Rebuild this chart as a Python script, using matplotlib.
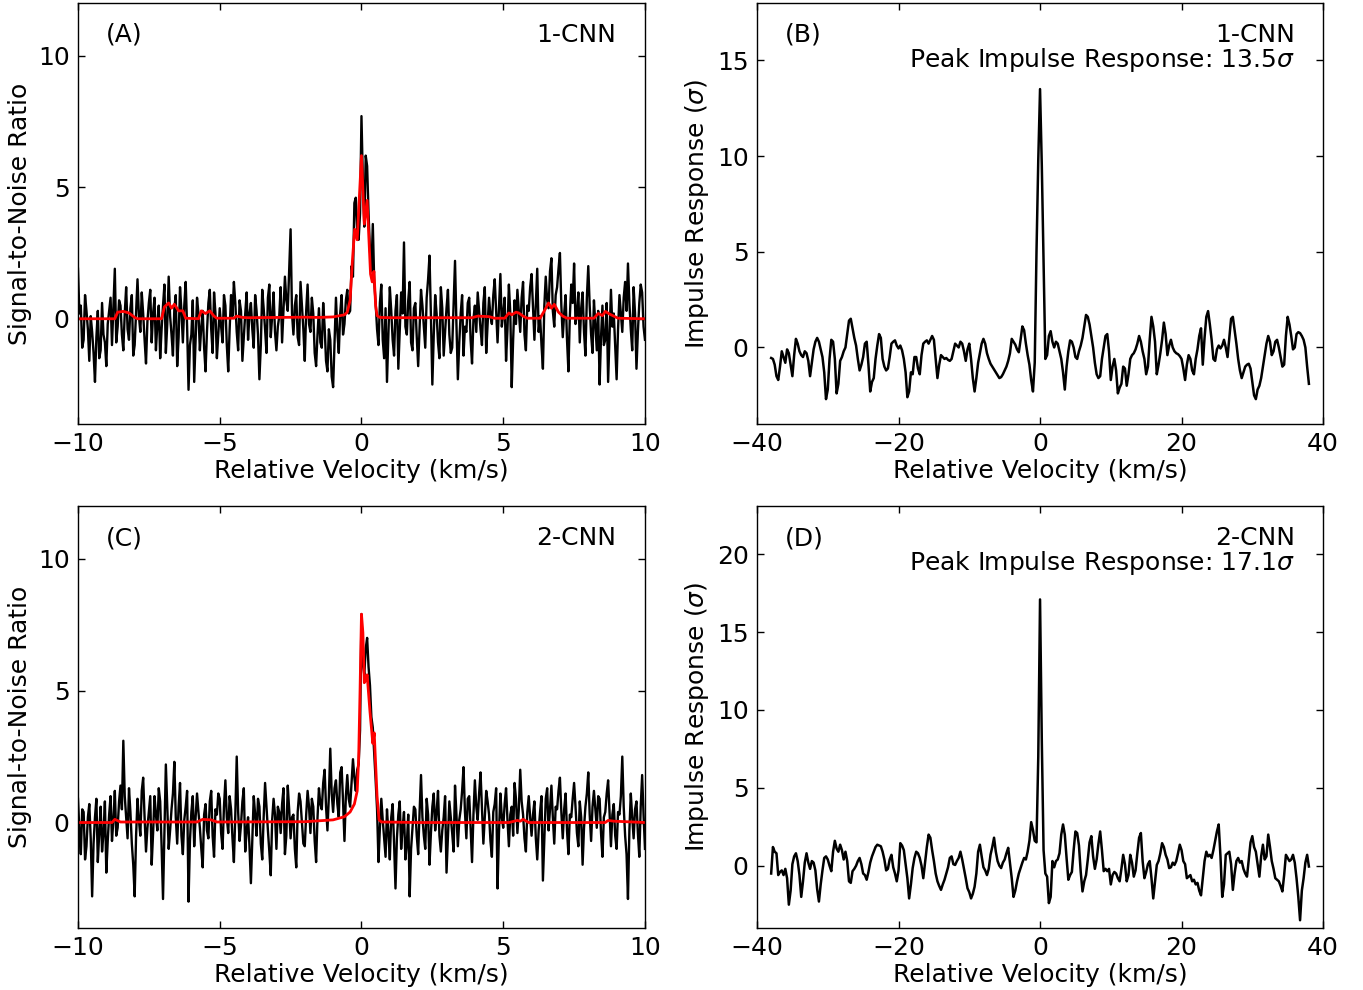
import numpy as np
import matplotlib
matplotlib.use("Agg")
import matplotlib.pyplot as plt

# ---------------- data ----------------
# Panel A: 1-CNN spectrum (black), 0.05 km/s channel grid from -10 to 10
snr_a = [1.9, 0.2, 0.5, -1.1, -0.8, 0.9, 0.3, -0.4, -1.6, 0.1, -0.5, -1.3, -2.4, -0.7, 0.3, -1.5, -1.2, 0.6, -0.6, -0.9,
         -1.8, -0.2, 0.3, 0.8, -1.0, 0.4, 1.9, -0.9, -0.3, 0.7, 0.5, -0.6, -1.2, 0.2, 1.2, -0.4, -0.8, 0.4, 0.9, -1.4,
         -1.0, 0.3, 1.5, 0.1, -0.5, 1.0, 0.2, -0.8, -1.7, -0.1, 0.6, 1.1, -0.9, 0.2, 0.8, -1.2, -0.2, 0.5, -1.5, -0.4,
         0.5, 1.3, -1.3, -0.2, 1.6, 0.1, -0.6, -1.4, 0.4, 0.9, -1.8, -0.7, 1.2, 0.3, -0.9, 0.5, 1.4, -0.3, -2.7, -1.0,
         -0.6, 0.7, -2.4, -0.8, 0.8, 0.2, -1.2, -0.3, 0.3, -1.1, -2.0, -0.5, 0.6, 1.1, -0.4, -1.3, 1.0, 0.2, -1.5, -0.6,
         0.4, -0.3, -0.9, 0.9, 0.5, -1.0, -2.0, -0.4, 0.9, 0.1, 1.4, 0.6, -0.5, -1.2, 0.7, 0.3, -1.6, -0.7, 0.2, 1.0,
         -0.8, 0.2, 0.6, -0.4, -1.1, 0.9, 0.3, -0.6, -2.3, -1.0, 1.1, 0.4, -0.4, -1.3, 0.8, 1.3, -0.7, 0.1, 1.0, -0.5,
         -1.2, -0.3, 0.1, 1.2, -0.9, 0.4, 1.6, 0.7, 0.3, 1.8, 3.4, 0.2, -0.6, 0.5, 0.9, -0.7, -1.0, 1.4, 0.5, -0.4,
         -1.6, 0.3, 1.3, -0.2, -0.5, 0.8, 0.2, -1.3, -1.8, -0.6, 0.4, -0.9, -1.1, 0.6, -0.3, -1.6, -2.0, -0.4, -0.8, -2.2,
         -2.6, -0.9, 0.8, -0.5, -1.3, 0.2, 0.9, -0.6, -0.2, 0.7, 1.1, 0.2, 0.3, 2.0, 1.6, 4.4, 4.6, 3.3, 3.0, 4.0,
         7.7, 5.2, 3.5, 6.2, 5.8, 4.0, 2.6, 1.8, 3.6, 1.4, 0.6, -0.4, -1.0, 0.6, 1.3, -0.8, -1.5, 0.4, -2.4, -0.6,
         1.2, 0.3, -0.8, -1.4, 0.3, 0.9, -1.9, -0.5, 1.0, 0.2, 2.9, -0.3, -0.6, 0.7, 1.4, -0.9, -1.2, 0.4, 0.6, -0.7,
         -1.8, -0.4, 1.1, 0.5, -0.3, -1.1, 0.8, 1.5, 2.4, 0.1, -2.5, -0.6, 0.9, 0.2, -0.9, -1.5, 1.2, 0.4, -1.4, -0.5,
         0.4, 1.1, -0.6, -1.3, -1.1, 0.5, 2.2, -0.2, -2.3, -0.9, 0.2, 0.9, -1.4, -0.3, -0.5, 0.6, 0.8, -0.8, -1.7, 0.0,
         0.5, -0.5, 1.0, 0.3, -0.4, -1.0, 0.6, 1.2, -1.3, -0.2, 0.8, 0.1, -0.2, 0.9, 1.5, 0.3, -0.9, 0.4, 1.7, -0.3,
         0.2, 0.8, -1.6, -0.4, 1.3, 0.2, -2.6, -0.8, 0.7, -0.2, 1.1, 0.3, -0.5, 0.8, 1.4, -0.6, -1.2, 0.5, 0.3, 1.2,
         1.7, 0.4, -0.8, 0.6, 1.9, -0.5, 0.1, -1.0, -1.9, 0.5, 1.6, 0.7, 0.4, 1.8, 2.3, 0.3, -0.3, 0.9, 1.2, 1.9,
         2.5, 0.5, -0.7, 0.2, 0.9, -0.8, -2.0, 0.1, 1.3, 0.6, 2.1, -0.2, 0.2, 1.0, -0.9, 0.4, 1.0, -0.5, -1.4, 0.8,
         2.0, 0.5, -0.6, -1.3, 0.7, -0.2, -1.2, 0.3, -2.5, -0.7, 0.5, -1.0, -0.8, 0.6, -2.4, -0.6, 1.1, -0.3, 0.2, -1.1,
         -2.3, -0.4, 0.9, 0.2, -0.5, 0.8, 1.4, 0.3, 2.1, 0.6, -0.4, -1.2, 1.2, 0.2, -1.9, -0.5, 0.6, 1.3, 1.0, -0.3,
         -0.8]

# Panel A: 1-CNN model (red)
model_a_vel = [-10, -8.7, -8.6, -8.4, -8.2, -8.0, -7.9, -7.05, -6.95, -6.8,
               -6.7, -6.6, -6.45, -6.3, -6.2, -5.75, -5.65, -5.5, -5.35, -5.2,
               -5.1, -4.5, -4.4, -4.2, -4.0, -2.0, -1.5, -1.0, -0.6, -0.5,
               -0.4, -0.32, -0.24, -0.15, -0.08, 0.0, 0.1, 0.2, 0.32, 0.38,
               0.44, 0.5, 0.55, 0.65, 1.0, 3.9, 4.1, 4.5, 4.7, 5.05,
               5.2, 5.3, 5.45, 5.55, 5.7, 5.85, 6.3, 6.45, 6.6, 6.7,
               6.8, 6.95, 7.1, 7.25, 8.2, 8.35, 8.5, 8.6, 8.75, 8.9,
               9.05, 10]
model_a_snr = [0, 0, 0.25, 0.28, 0.22, 0.05, 0.0, 0.0, 0.45, 0.6,
               0.4, 0.55, 0.3, 0.3, 0.02, 0.0, 0.3, 0.2, 0.3, 0.1,
               0.02, 0.02, 0.1, 0.05, 0.04, 0.06, 0.05, 0.07, 0.15, 0.25,
               0.7, 2.2, 3.4, 3.0, 4.5, 6.2, 3.6, 4.5, 1.7, 1.4,
               1.8, 0.5, 0.12, 0.05, 0.04, 0.04, 0.1, 0.08, 0.02, 0.02,
               0.22, 0.15, 0.25, 0.22, 0.1, 0.02, 0.02, 0.3, 0.6, 0.4,
               0.55, 0.25, 0.1, 0.02, 0.02, 0.2, 0.12, 0.28, 0.18, 0.1,
               0.02, 0.0]

# Panel B: 1-CNN impulse response, 0.25 km/s grid from -38 to 38
impulse_b = [-0.55, -0.6, -0.9, -1.5, -1.7, -1.0, -0.2, -0.5, -0.8, -0.1,
             -0.3, -0.9, -1.5, -0.4, 0.45, 0.2, -0.2, -0.4, -0.5, -0.2,
             -0.3, -0.7, -1.5, -0.8, -0.1, 0.3, 0.5, 0.3, -0.1, -0.5,
             -1.3, -2.7, -2.2, -0.6, 0.4, 0.3, -0.6, -2.4, -1.9, -0.7,
             -0.5, -0.2, 0.0, 0.7, 1.4, 1.5, 1.0, 0.5, 0.1, -0.6,
             -1.2, -0.9, -0.5, 0.2, 0.3, -0.9, -2.3, -1.8, -1.6, -0.6,
             0.1, 0.7, 0.5, -0.6, -1.0, -1.2, -1.1, -0.5, 0.2, 0.3,
             0.37, 0.1, -0.05, 0.1, -0.15, -0.6, -1.3, -2.6, -2.3, -1.3,
             -1.4, -0.5, -0.5, -1.1, -1.4, -0.4, 0.2, 0.3, 0.37, 0.2,
             0.4, 0.6, 0.4, -0.6, -1.6, -0.9, -0.4, -0.5, -0.6, -0.55,
             -0.65, -0.7, -0.6, -0.2, 0.2, 0.1, 0.0, 0.3, 0.2, -0.2,
             -0.7, -0.1, 0.2, -0.6, -1.6, -2.3, -1.6, -0.8, -0.3, 0.2,
             0.45, 0.2, -0.3, -0.6, -0.85, -1.0, -1.15, -1.3, -1.45, -1.6,
             -1.55, -1.4, -1.2, -1.0, -0.7, -0.3, 0.45, 0.3, 0.15, -0.1,
             -0.25, 0.4, 1.1, 0.9, 0.2, -0.4, -0.9, -1.7, -2.3, -0.8,
             5.0, 9.8, 13.5, 9.5, 4.5, -0.6, -0.4, 0.6, 0.85, 0.3,
             0.0, 0.3, 0.2, -0.2, -0.6, -1.3, -2.2, -1.0, -0.2, 0.37,
             0.3, 0.0, -0.5, -0.6, -0.2, 0.1, 0.5, 1.1, 1.7, 1.6,
             1.2, 0.6, 0.0, -0.8, -1.4, -1.6, -1.5, -0.6, 0.0, 0.6,
             0.7, -0.2, -1.7, -1.0, -0.6, -1.2, -2.4, -2.1, -1.9, -1.0,
             -1.1, -2.0, -1.4, -0.6, -0.4, -0.3, -0.1, 0.2, 0.6, 0.3,
             -0.2, -0.6, -1.4, -1.0, 0.4, 1.6, 1.1, 0.3, -1.4, -0.9,
             -0.3, 0.4, 1.3, 0.7, -0.4, 0.1, 0.4, 0.0, -0.2, -0.3,
             -0.35, -0.45, -0.6, -1.1, -1.7, -0.9, -0.4, -0.6, -1.2, -1.4,
             -0.6, -0.1, 0.6, 1.0, -0.9, 0.5, 1.6, 1.9, 1.2, 0.4,
             -0.6, -0.7, -0.1, 0.1, -0.05, 0.1, 0.4, 0.0, -0.5, 0.5,
             1.5, 1.6, 0.9, 0.2, -0.6, -1.2, -1.6, -1.3, -1.0, -0.9,
             -0.85, -1.1, -1.8, -2.5, -2.7, -2.2, -2.0, -1.6, -1.0, -0.4,
             0.2, 0.6, 0.3, -0.4, -0.2, 0.3, 0.4, 0.0, -0.5, -1.0,
             -0.9, 0.6, 1.6, 1.2, 0.6, -0.1, 0.0, 0.7, 0.8, 0.75,
             0.6, 0.4, 0.0, -1.0, -1.9]

# Panel C: 2-CNN spectrum (black), 0.05 km/s grid from -10 to 10
snr_c = [0.9, -0.3, -1.2, 0.5, 0.4, -1.4, -0.9, 0.2, 0.7, -0.6, -2.8, -0.8, 0.2, 0.9, -1.5, -0.4, 0.6, -1.1, -0.4, 0.8,
         -1.9, -0.7, 0.3, 1.0, -0.7, 0.1, 1.2, -0.5, -0.2, 0.8, 1.4, 0.5, 3.1, 1.0, 0.2, -0.6, 1.3, 0.4, -0.8, -1.6,
         -2.8, -0.5, 0.9, 0.1, -0.5, 1.2, 1.7, 0.2, -1.1, -0.2, 0.4, 1.0, -1.6, -0.4, 1.0, 0.3, -0.3, 1.3, 0.8, -0.9,
         -2.9, -0.4, 2.2, 0.6, -1.0, -0.3, 0.5, 1.1, 2.3, 0.2, -0.8, 0.6, 1.5, -0.5, -1.2, 0.1, 0.6, 1.2, -3.0, -0.7,
         0.4, 1.0, -0.9, 0.2, 1.1, 0.4, -0.2, -1.0, -1.7, 0.3, 0.7, -0.3, -0.6, 0.8, 1.2, -0.5, -1.3, 0.5, 0.3, 1.1,
         0.9, -0.4, -1.0, 0.6, 1.6, 0.2, -0.4, 1.0, 0.5, -0.6, -1.5, 0.3, 2.5, 0.4, -0.7, -0.1, 0.8, 1.3, -1.1, -0.3,
         0.2, -0.9, -2.3, -0.6, 1.0, 0.3, -0.5, 0.9, 0.6, -0.8, -1.4, 0.2, 1.5, 0.6, -0.3, -1.1, -2.0, 0.1, 0.9, 0.3,
         -1.0, 0.6, 0.4, -0.4, 0.7, 1.3, -1.2, -0.5, 1.4, 0.5, -0.6, 0.2, 0.3, -1.0, -1.7, 0.4, 1.1, 0.8, 0.0, -0.8,
         -0.9, 0.3, 1.2, 0.6, -0.4, 0.9, 0.6, -0.7, -1.5, 0.2, 1.3, 0.7, 0.5, 1.5, 2.0, 0.6, -0.3, 1.0, 2.8, 1.1,
         0.4, 1.3, 1.6, 0.7, 0.2, 1.9, 2.1, 0.8, -0.7, 1.0, 1.8, 0.9, 0.6, 1.5, 2.4, 1.7, 1.2, 2.0, 2.2, 3.5,
         7.9, 6.0, 5.6, 6.6, 7.0, 5.9, 5.2, 4.0, 3.6, 2.6, 1.6, 0.5, -1.5, -0.2, 0.9, 0.1, -0.6, -1.3, 0.5, -0.4,
         -1.4, 0.2, 0.7, -0.8, -2.5, -0.6, 0.3, 0.8, -1.0, -0.2, 0.4, -1.4, -0.8, 0.3, -2.8, -1.0, -0.2, 0.6, 0.5, -0.5,
         -1.2, 0.4, 1.8, 0.2, -0.5, -1.0, 0.9, 0.3, -1.6, -0.4, 0.6, 1.1, -0.3, 0.4, 1.2, -0.5, -1.1, -0.3, 0.2, 1.0,
         -1.9, -0.5, 0.8, 0.2, -0.4, -1.1, 1.4, 0.3, -0.9, 0.1, 0.5, 1.2, 2.1, 0.4, -0.6, 0.9, 1.0, -0.2, -1.5, 0.3,
         1.6, 0.6, 0.1, 1.1, 1.9, 0.5, -0.8, 0.2, 1.2, 0.8, 0.3, -0.7, -1.3, 0.4, 0.7, 1.3, -2.5, -0.4, 1.1, 0.2,
         -0.2, 0.7, 1.3, 0.1, -0.9, 0.3, 0.6, -0.5, 1.5, 0.9, -0.4, 0.5, 2.0, 0.8, 0.3, -0.6, -1.1, 0.4, 1.0, 0.2,
         -0.5, 0.3, 0.8, -0.6, -1.4, -0.3, 0.4, 1.0, -2.2, -0.7, 0.9, 1.3, -0.3, 0.5, 1.4, 0.2, -0.8, 0.6, 0.5, 1.2,
         1.7, 0.4, -0.6, 0.5, 1.1, -0.3, -1.2, 0.3, 0.2, 0.9, 1.5, 0.6, -0.4, -0.9, 0.8, 0.2, -1.6, -0.2, 0.6, 1.1,
         1.9, 0.3, -0.7, 0.6, 1.2, 0.5, -0.2, 1.0, 0.9, -0.4, -1.3, 0.2, 0.4, 1.1, 1.6, 0.4, -0.9, 0.3, 0.7, -0.5,
         -1.0, 0.4, 0.3, 1.0, 2.5, 0.6, -0.5, -1.2, -2.9, -0.3, 1.1, 0.2, -0.6, 0.5, 0.8, -0.4, -1.3, 0.6, 1.8, 0.3,
         -1.0]

# Panel C: 2-CNN model (red)
model_c_vel = [-10, -8.8, -8.7, -8.5, -5.8, -5.6, -5.3, -5.1, -2.0, -1.0,
               -0.6, -0.4, -0.25, -0.15, -0.1, -0.05, 0.0, 0.05, 0.1, 0.15,
               0.2, 0.3, 0.4, 0.45, 0.5, 0.55, 0.62, 0.7, 2.0, 5.2,
               5.5, 5.6, 5.7, 5.9, 8.6, 8.7, 8.9, 10]
model_c_snr = [0, 0, 0.12, 0.02, 0.02, 0.12, 0.1, 0.02, 0.03, 0.1,
               0.22, 0.4, 0.7, 1.2, 2.4, 5.0, 7.9, 7.2, 5.3, 5.4,
               5.6, 4.2, 3.0, 3.4, 2.2, 1.0, 0.1, 0.02, 0.0, 0.0,
               0.08, 0.05, 0.12, 0.0, 0.0, 0.08, 0.05, 0.0]

# Panel D: 2-CNN impulse response, 0.25 km/s grid from -38 to 38
impulse_d = [-0.5, 1.2, 0.9, 0.8, -0.6, -0.4, -0.3, -0.6, -0.2, -0.8,
             -2.5, -1.6, 0.1, 0.6, 0.8, 0.3, -0.6, -2.0, -1.0, 0.2,
             0.8, 0.2, -0.2, 0.3, 0.2, -0.3, -1.5, -2.3, -1.2, -0.3,
             0.5, 0.6, 0.4, 0.0, -0.35, 0.9, 1.6, 1.1, 0.9, 1.35,
             1.0, 0.4, 0.9, 0.3, -1.0, -1.1, -0.35, -0.2, 0.0, 0.3,
             0.5, 0.1, -0.5, -0.6, -0.9, -0.4, 0.2, 0.6, 0.9, 1.2,
             1.35, 1.3, 1.25, 0.9, 0.4, -0.3, -0.2, 0.4, 0.7, -0.1,
             -0.5, -1.0, -0.3, 1.45, 1.3, 1.0, 0.1, -0.8, -2.1, -1.2,
             -0.15, 0.5, 0.9, 0.8, 0.5, 0.0, -0.8, 0.2, 1.2, 2.0,
             1.8, 1.0, 0.3, -0.5, -1.0, -1.3, -1.55, -1.2, -0.9, -0.5,
             -0.1, 0.5, 0.6, 0.1, 0.05, 0.3, 0.5, 0.9, 0.4, -0.2,
             -0.8, -1.45, -1.7, -2.1, -1.8, -1.35, -0.5, 0.9, 1.35, 0.6,
             -0.1, -0.3, -0.6, -0.2, 0.7, 1.2, 1.8, 0.9, 0.3, 0.0,
             -0.15, 0.2, 0.4, 0.8, 1.15, 0.2, -0.8, -2.0, -1.6, -1.0,
             -0.5, -0.15, 0.2, 0.5, 0.4, 0.9, 1.6, 2.8, 2.3, 1.6,
             1.5, 7.0, 17.1, 8.0, 1.0, -0.5, -0.7, -2.4, -2.0, 0.3,
             -0.1, 0.3, 0.4, 0.8, 2.0, 2.65, 2.0, 0.5, -0.9, -0.6,
             -0.4, 1.0, 2.2, 2.1, 1.3, -0.4, -1.65, -1.0, -0.6, 0.4,
             1.5, 1.9, 0.6, -0.2, 0.4, 1.4, 2.2, 1.0, -0.35, -0.2,
             -0.35, -0.2, -1.2, -0.6, -0.4, -0.5, -0.8, -1.0, -0.2, 0.7,
             0.1, -1.0, -0.6, 0.7, 0.2, -0.7, -0.3, 0.8, 1.8, 2.1,
             0.3, -0.8, -0.4, 0.1, 0.3, -0.8, -2.1, -1.0, 0.05, 0.3,
             0.8, 1.45, 1.2, 0.7, 0.4, -0.15, -0.1, 0.2, 0.05, 0.3,
             0.8, 1.35, 1.0, 0.3, 0.1, -0.8, -0.7, -0.6, -1.0, -0.9,
             -1.2, -1.1, -1.6, -1.9, -0.8, 0.3, 0.9, 0.6, 0.7, 0.5,
             1.0, 1.6, 2.2, 2.65, 0.6, -2.0, -1.2, 0.7, 0.8, 0.9,
             0.1, -1.55, -0.5, 0.3, 0.5, 0.2, 0.3, -0.2, -0.5, -0.7,
             0.4, 1.5, 1.9, 1.2, 0.9, 0.1, -0.7, 0.6, 1.35, 0.4,
             0.6, 2.0, 1.2, 0.3, -0.2, -0.8, -0.9, -1.0, -1.3, -1.65,
             -0.6, 0.7, 0.5, 0.3, 0.4, 0.7, 0.2, -0.8, -2.0, -3.5,
             -1.6, -0.8, 0.2, 0.7, -0.05]

panel_labels = ["(A)", "(B)", "(C)", "(D)"]
model_names = ["1-CNN", "1-CNN", "2-CNN", "2-CNN"]
peak_responses = [13.5, 17.1]

# ---------------- figure ----------------
plt.rcParams['font.family'] = ['DejaVu Sans']
plt.rcParams['mathtext.fontset'] = 'dejavusans'
FS = 18

fig = plt.figure(figsize=(13.63, 9.90), dpi=100)
axA = fig.add_axes([0.0572, 0.5717, 0.4160, 0.4253])
axB = fig.add_axes([0.5554, 0.5717, 0.4153, 0.4253])
axC = fig.add_axes([0.0572, 0.0626, 0.4160, 0.4263])
axD = fig.add_axes([0.5554, 0.0626, 0.4153, 0.4263])

vel_a = np.linspace(-10, 10, len(snr_a))
vel_c = np.linspace(-10, 10, len(snr_c))
vel_b = np.linspace(-38, 38, len(impulse_b))
vel_d = np.linspace(-38, 38, len(impulse_d))

axA.plot(vel_a, snr_a, color='black', lw=1.7)
axA.plot(model_a_vel, model_a_snr, color='red', lw=2.0)
axC.plot(vel_c, snr_c, color='black', lw=1.7)
axC.plot(model_c_vel, model_c_snr, color='red', lw=2.0)
axB.plot(vel_b, impulse_b, color='black', lw=1.8)
axD.plot(vel_d, impulse_d, color='black', lw=1.8)

for ax in (axA, axC):
    ax.set_xlim(-10, 10)
    ax.set_ylim(-4, 12)
    ax.set_xticks([-10, -5, 0, 5, 10])
    ax.set_yticks([0, 5, 10])
    ax.set_ylabel("Signal-to-Noise Ratio", fontsize=FS)
for ax, top in ((axB, 18), (axD, 23.1)):
    ax.set_xlim(-40, 40)
    ax.set_ylim(-4, top)
    ax.set_xticks([-40, -20, 0, 20, 40])
    ax.set_ylabel(r"Impulse Response ($\sigma$)", fontsize=FS)
axB.set_yticks([0, 5, 10, 15])
axD.set_yticks([0, 5, 10, 15, 20])

for ax, lab, name in zip((axA, axB, axC, axD), panel_labels, model_names):
    ax.set_xlabel("Relative Velocity (km/s)", fontsize=FS, labelpad=2)
    ax.tick_params(direction='in', top=True, right=True, labelsize=FS,
                   length=5, width=1, pad=6)
    for s in ax.spines.values():
        s.set_linewidth(1.0)
    ax.text(0.05, 0.924, lab, transform=ax.transAxes, fontsize=FS,
            ha='left', va='center')
    ax.text(0.95, 0.924, name, transform=ax.transAxes, fontsize=FS,
            ha='right', va='center')

for ax, pk in zip((axB, axD), peak_responses):
    ax.text(0.95, 0.865, "Peak Impulse Response: %.1f$\\sigma$" % pk,
            transform=ax.transAxes, fontsize=FS, ha='right', va='center')

fig.savefig("out.png", dpi=100)
